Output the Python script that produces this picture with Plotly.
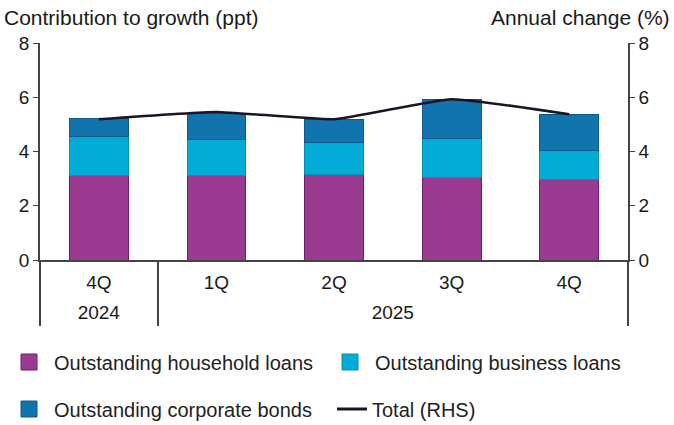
import plotly.graph_objects as go

years = ["2024", "2025", "2025", "2025", "2025"]
quarters = ["4Q", "1Q", "2Q", "3Q", "4Q"]
household = [3.13, 3.13, 3.17, 3.03, 2.98]
business = [1.41, 1.31, 1.17, 1.46, 1.06]
bonds = [0.66, 0.96, 0.85, 1.44, 1.33]
total = [5.19, 5.46, 5.19, 5.93, 5.37]

names = ["Outstanding household loans", "Outstanding business loans",
         "Outstanding corporate bonds", "Total (RHS)"]
colors = ["#9B3A91", "#03ACD6", "#1274AD"]
edges = ["#6E1E68", "#0390B5", "#0B5A8A"]

cats = [f"{q} {y}" for q, y in zip(quarters, years)]
n = len(cats)
# year groups: label at centre of each group, dividers at group boundaries
groups = []
for i, y in enumerate(years):
    if not groups or groups[-1][0] != y:
        groups.append([y, i, i])
    else:
        groups[-1][2] = i
year_pos = [(g[1] + g[2]) / 2 for g in groups]
year_lab = [g[0] for g in groups]
bounds = [groups[0][1] - 0.5] + [g[2] + 0.5 for g in groups]

fig = go.Figure()
for vals, nm, c, e in zip([household, business, bonds], names[:3], colors, edges):
    fig.add_trace(go.Bar(x=cats, y=vals, name=nm, marker=dict(color=c, line=dict(color=e, width=1)),
                         showlegend=False))
fig.add_trace(go.Scatter(x=cats, y=total, name=names[3], yaxis="y2", mode="lines",
                         line=dict(color="#1c1424", width=2.5, shape="spline", smoothing=0.4),
                         showlegend=False))
# legend entries, one legend box per entry to reproduce the 2x2 grid
legs = ["legend", "legend2", "legend3", "legend4"]
for nm, c, e, lg in zip(names[:3], colors, edges, legs):
    fig.add_trace(go.Scatter(x=[None], y=[None], mode="markers", name=nm, legend=lg,
                             marker=dict(symbol="square", size=16, color=c, line=dict(color=e, width=1))))
fig.add_trace(go.Scatter(x=[None], y=[None], mode="lines", name=names[3], legend=legs[3],
                         line=dict(color="#1c1424", width=3)))

axcol = "#444444"
F = 19
legcommon = dict(orientation="h", xanchor="left", yanchor="middle",
                 xref="container", yref="container", font=dict(size=20, color="#222"),
                 itemwidth=40, bgcolor="rgba(0,0,0,0)")
fig.update_layout(
    width=674, height=425,
    margin=dict(l=40, r=46, t=43, b=165),
    paper_bgcolor="white", plot_bgcolor="white",
    barmode="stack", bargap=0.5,
    font=dict(family="Liberation Sans, Arial, sans-serif", size=F, color="#1a1a1a"),
    xaxis=dict(type="category", range=[-0.5, n - 0.5], showline=True, linecolor=axcol, linewidth=1.5,
               ticks="", tickmode="array", tickvals=cats, ticktext=quarters,
               tickfont=dict(size=F), ticklabelstandoff=4, automargin=False),
    xaxis2=dict(type="linear", overlaying="x", side="bottom", anchor="y", range=[-0.5, n - 0.5],
                showline=False, showgrid=False, zeroline=False, ticks="",
                tickmode="array", tickvals=year_pos, ticktext=year_lab,
                tickfont=dict(size=F), ticklabelstandoff=39, automargin=False,
                minor=dict(tickmode="array", tickvals=bounds, ticks="outside", ticklen=65,
                           tickwidth=1.5, tickcolor=axcol, showgrid=False)),
    yaxis=dict(range=[0, 8], dtick=2, showgrid=False, showline=True, linecolor=axcol, linewidth=1.5,
               ticks="outside", ticklen=5, tickcolor=axcol, zeroline=False, tickfont=dict(size=F)),
    yaxis2=dict(range=[0, 8], dtick=2, overlaying="y", side="right", showgrid=False, showline=True,
                linecolor=axcol, linewidth=1.5, ticks="outside", ticklen=5, tickcolor=axcol,
                zeroline=False, tickfont=dict(size=F)),
    legend=dict(legcommon, x=4 / 674, y=1 - 362 / 425),
    legend2=dict(legcommon, x=325 / 674, y=1 - 362 / 425),
    legend3=dict(legcommon, x=4 / 674, y=1 - 409 / 425),
    legend4=dict(legcommon, x=332 / 674, y=1 - 409 / 425, itemwidth=30),
    annotations=[
        dict(text="Contribution to growth (ppt)", xref="paper", yref="paper", x=0, xanchor="left",
             y=1.0, yshift=26, yanchor="middle", showarrow=False, font=dict(size=21), xshift=-38),
        dict(text="Annual change (%)", xref="paper", yref="paper", x=1, xanchor="right",
             y=1.0, yshift=26, yanchor="middle", showarrow=False, font=dict(size=21), xshift=44),
    ],
)
# invisible anchor trace so the year axis is drawn
fig.add_trace(go.Scatter(x=year_pos, y=[None] * len(year_pos), xaxis="x2", showlegend=False,
                         hoverinfo="skip", mode="markers"))
fig.write_html("out.html")
